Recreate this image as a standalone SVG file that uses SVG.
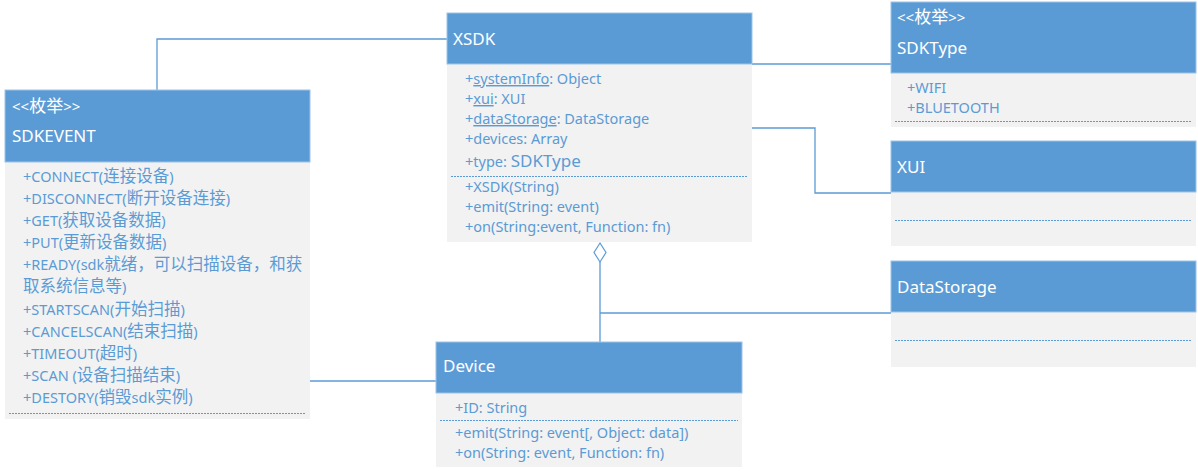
<svg xmlns="http://www.w3.org/2000/svg" width="1198" height="471" viewBox="0 0 1198 471">
<style>
.hd{fill:#5B9BD5;stroke:#9DC3E6;stroke-width:1}
.bd{fill:#F2F2F2}
.ht{fill:#FFFFFF;font-family:"Noto Sans","Noto Sans CJK SC",sans-serif;font-size:17px}
.st{fill:#FFFFFF;font-family:"Noto Sans","Noto Sans CJK SC",sans-serif;font-size:15px}
.t{fill:#5B9BD5;font-family:"Noto Sans","Noto Sans CJK SC",sans-serif;font-size:14.5px}
.c{font-size:16.5px}
.dash{stroke:#5B9BD5;stroke-width:1;stroke-dasharray:2 1;fill:none}
.ln{stroke:#5B9BD5;stroke-width:1.3;fill:none}
</style>
<rect width="1198" height="471" fill="#FFFFFF"/>
<g id="connectors">
<polyline class="ln" points="157,90 157,39 447,39"/>
<line class="ln" x1="752" y1="64" x2="891" y2="64"/>
<polyline class="ln" points="752,128 815,128 815,193 891,193"/>
<line class="ln" x1="600" y1="262" x2="600" y2="342"/>
<line class="ln" x1="600" y1="313" x2="891" y2="313"/>
<line class="ln" x1="310" y1="381" x2="436" y2="381"/>
<polygon points="600,243 606,252.5 600,262 594,252.5" fill="#FFFFFF" stroke="#5B9BD5" stroke-width="1.2"/>
</g>
<g id="SDKEVENT">
<rect class="bd" x="5" y="162" width="305" height="257"/>
<rect class="hd" x="5" y="90" width="305" height="72"/>
<text class="st" x="12" y="112">&lt;&lt;<tspan font-size="17px">枚举</tspan>&gt;&gt;</text>
<text class="ht" x="12" y="142">SDKEVENT</text>
<text class="t" x="23" y="182">+CONNECT(<tspan class="c">连接设备</tspan>)</text>
<text class="t" x="23" y="204">+DISCONNECT(<tspan class="c">断开设备连接</tspan>)</text>
<text class="t" x="23" y="226">+GET(<tspan class="c">获取设备数据</tspan>)</text>
<text class="t" x="23" y="248">+PUT(<tspan class="c">更新设备数据</tspan>)</text>
<text class="t" x="23" y="270">+READY(sdk<tspan class="c">就绪，可以扫描设备，和获</tspan></text>
<text class="t" x="23" y="292"><tspan class="c">取系统信息等</tspan>)</text>
<text class="t" x="23" y="315">+STARTSCAN(<tspan class="c">开始扫描</tspan>)</text>
<text class="t" x="23" y="337">+CANCELSCAN(<tspan class="c">结束扫描</tspan>)</text>
<text class="t" x="23" y="359">+TIMEOUT(<tspan class="c">超时</tspan>)</text>
<text class="t" x="23" y="381">+SCAN (<tspan class="c">设备扫描结束</tspan>)</text>
<text class="t" x="23" y="403">+DESTORY(<tspan class="c">销毁</tspan>sdk<tspan class="c">实例</tspan>)</text>
<line class="dash" x1="9" y1="413.5" x2="305" y2="413.5"/>
</g>
<g id="XSDK">
<rect class="bd" x="447" y="64" width="305" height="178"/>
<rect class="hd" x="447" y="13" width="305" height="51"/>
<text class="ht" x="453" y="45">XSDK</text>
<text class="t" x="465" y="84">+<tspan text-decoration="underline">systemInfo</tspan>: Object</text>
<text class="t" x="465" y="104">+<tspan text-decoration="underline">xui</tspan>: XUI</text>
<text class="t" x="465" y="124">+<tspan text-decoration="underline">dataStorage</tspan>: DataStorage</text>
<text class="t" x="465" y="144">+devices: Array</text>
<text class="t" x="465" y="167">+type: <tspan font-size="17px">SDKType</tspan></text>
<line class="dash" x1="451" y1="176.5" x2="748" y2="176.5"/>
<text class="t" x="465" y="192">+XSDK(String)</text>
<text class="t" x="465" y="212">+emit(String: event)</text>
<text class="t" x="465" y="232">+on(String:event, Function: fn)</text>
</g>
<g id="SDKType">
<rect class="bd" x="891" y="73" width="305" height="54"/>
<rect class="hd" x="891" y="2" width="305" height="71"/>
<text class="st" x="897" y="23">&lt;&lt;<tspan font-size="17px">枚举</tspan>&gt;&gt;</text>
<text class="ht" x="897" y="54">SDKType</text>
<text class="t" x="907" y="93">+WIFI</text>
<text class="t" x="907" y="113">+BLUETOOTH</text>
<line class="dash" x1="895" y1="121.5" x2="1192" y2="121.5"/>
</g>
<g id="XUI">
<rect class="bd" x="891" y="192" width="305" height="54"/>
<rect class="hd" x="891" y="141" width="305" height="51"/>
<text class="ht" x="897" y="173">XUI</text>
<line class="dash" x1="895" y1="220.5" x2="1192" y2="220.5"/>
</g>
<g id="DataStorage">
<rect class="bd" x="891" y="312" width="305" height="55"/>
<rect class="hd" x="891" y="261" width="305" height="51"/>
<text class="ht" x="897" y="293">DataStorage</text>
<line class="dash" x1="895" y1="340.5" x2="1192" y2="340.5"/>
</g>
<g id="Device">
<rect class="bd" x="436" y="393" width="306" height="74"/>
<rect class="hd" x="436" y="342" width="306" height="51"/>
<text class="ht" x="443" y="372">Device</text>
<text class="t" x="455" y="413">+ID: String</text>
<line class="dash" x1="440" y1="420.5" x2="738" y2="420.5"/>
<text class="t" x="455" y="438">+emit(String: event[, Object: data])</text>
<text class="t" x="455" y="458">+on(String: event, Function: fn)</text>
</g>
</svg>
